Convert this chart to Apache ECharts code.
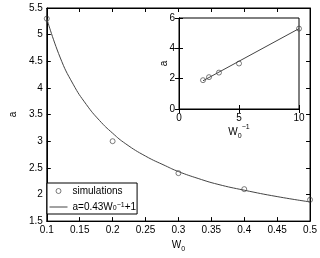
<!DOCTYPE html>
<html><head><meta charset="utf-8">
<script src="https://cdn.jsdelivr.net/npm/echarts@6/dist/echarts.min.js"></script>
<style>html,body{margin:0;padding:0;background:#fff}#c{width:320px;height:258px}</style>
</head><body><div id="c"></div>
<script>
// simulation points
var w0 = [0.1, 0.2, 0.3, 0.4, 0.5];
var aSim = [5.3, 3.0, 2.4, 2.1, 1.9];
// fitted curve
var fitW = [0.10, 0.12, 0.14, 0.16, 0.18, 0.20, 0.22, 0.25, 0.28, 0.30, 0.33, 0.36, 0.40, 0.45, 0.50];
var fitA = [5.30, 4.58, 4.07, 3.69, 3.39, 3.15, 2.95, 2.72, 2.54, 2.43, 2.30, 2.19, 2.08, 1.96, 1.86];
// inset: a vs 1/W0
var invW = [10, 5, 3.33, 2.5, 2];
var insetLineX = [2, 10];
var insetLineY = [1.86, 5.3];
var legendNames = ['simulations', 'a=0.43W0^-1+1'];

var FONT = 'Liberation Sans';
var txt = {color: '#000', fontFamily: FONT, fontSize: 10};
var rich = {
  sub: {fontSize: 7, lineHeight: 7, verticalAlign: 'bottom', fontFamily: FONT, color: '#000'},
  sup: {fontSize: 7, lineHeight: 7, verticalAlign: 'top', fontFamily: FONT, color: '#000'},
  b: {fontSize: 10, lineHeight: 16, fontFamily: FONT, color: '#000'}
};
var circleStyle = {color: 'rgba(0,0,0,0)', borderColor: '#333', borderWidth: 0.8};
function ax(o) {
  var base = {
    axisLine: {show: true, lineStyle: {color: '#000', width: 1}},
    axisTick: {show: true, inside: true, length: 4, lineStyle: {color: '#000'}},
    splitLine: {show: false},
    axisLabel: Object.assign({margin: 4}, txt)
  };
  return Object.assign(base, o);
}
var chart = echarts.init(document.getElementById('c'), null, {renderer: 'canvas'});
chart.setOption({
  animation: false,
  backgroundColor: '#fff',
  grid: [
    {left: 32, right: 9, top: 8, bottom: 31, show: true, borderColor: '#000', borderWidth: 1, backgroundColor: '#fff'},
    {left: 179, right: 21, top: 18, bottom: 149, show: true, borderColor: '#000', borderWidth: 1, backgroundColor: '#fff'}
  ],
  xAxis: [
    ax({type: 'value', gridIndex: 0, min: 0.1, max: 0.5, interval: 0.05, position: 'bottom',
        name: '{b|W}{sub|0}', nameLocation: 'middle', nameGap: 10, nameTextStyle: {rich: rich}}),
    ax({type: 'value', gridIndex: 0, min: 0.1, max: 0.5, interval: 0.05, position: 'top', axisLabel: {show: false}}),
    ax({type: 'value', gridIndex: 1, min: 0, max: 10, interval: 5, position: 'bottom',
        name: '{b|W}{sub|0}{sup|−1}', nameLocation: 'middle', nameGap: 8, nameTextStyle: {rich: rich}}),
    ax({type: 'value', gridIndex: 1, min: 0, max: 10, interval: 5, position: 'top', axisLabel: {show: false}})
  ],
  yAxis: [
    ax({type: 'value', gridIndex: 0, min: 1.5, max: 5.5, interval: 0.5, position: 'left',
        name: 'a', nameLocation: 'middle', nameGap: 18, nameTextStyle: txt}),
    ax({type: 'value', gridIndex: 0, min: 1.5, max: 5.5, interval: 0.5, position: 'right', axisLabel: {show: false}}),
    ax({type: 'value', gridIndex: 1, min: 0, max: 6, interval: 2, position: 'left',
        name: 'a', nameLocation: 'middle', nameGap: 10, nameMoveOverlap: false, nameTextStyle: txt}),
    ax({type: 'value', gridIndex: 1, min: 0, max: 6, interval: 2, position: 'right', axisLabel: {show: false}})
  ],
  legend: {
    left: 47, top: 183, orient: 'vertical',
    data: [
      {name: legendNames[0], icon: 'circle', itemStyle: circleStyle},
      {name: legendNames[1], itemStyle: {opacity: 0}, lineStyle: {width: 1, color: '#444'}}
    ],
    itemWidth: 18, itemHeight: 5, itemGap: 6,
    padding: [3, 1, 2, 2],
    borderColor: '#000', borderWidth: 1, backgroundColor: '#fff',
    textStyle: Object.assign({rich: rich}, txt),
    formatter: function (n) { return n === legendNames[0] ? n : 'a=0.43W{sub|0}{sup|−1}+1'; }
  },
  series: [
    {name: legendNames[0], type: 'scatter', xAxisIndex: 0, yAxisIndex: 0, symbol: 'circle', symbolSize: 5,
     itemStyle: circleStyle, data: w0.map(function (x, i) { return [x, aSim[i]]; })},
    {name: legendNames[1], type: 'line', xAxisIndex: 0, yAxisIndex: 0, smooth: true, symbol: 'none',
     lineStyle: {color: '#444', width: 1}, itemStyle: {color: '#444'},
     data: fitW.map(function (x, i) { return [x, fitA[i]]; })},
    {type: 'scatter', xAxisIndex: 2, yAxisIndex: 2, symbol: 'circle', symbolSize: 5,
     itemStyle: circleStyle, data: invW.map(function (x, i) { return [x, aSim[i]]; })},
    {type: 'line', xAxisIndex: 2, yAxisIndex: 2, symbol: 'none', lineStyle: {color: '#444', width: 1},
     data: insetLineX.map(function (x, i) { return [x, insetLineY[i]]; })}
  ]
});
</script></body></html>
